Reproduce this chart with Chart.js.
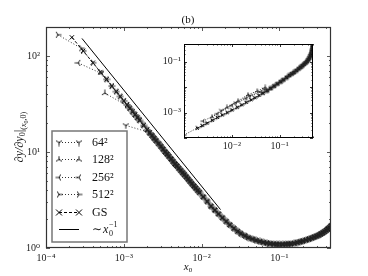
<!DOCTYPE html>
<html>
<head>
<meta charset="utf-8">
<script src="https://cdn.jsdelivr.net/npm/chart.js@4.4.0/dist/chart.umd.min.js"></script>
<style>
html, body { margin: 0; padding: 0; background: #fff; }
#wrap { position: relative; width: 368px; height: 276px; }
#main { position: absolute; left: 0; top: 0; }
#inset { position: absolute; left: 150px; top: 35px; }
</style>
</head>
<body>
<div id="wrap">
  <canvas id="main" width="368" height="276"></canvas>
  <canvas id="inset" width="170" height="120"></canvas>
</div>
<script>
// ---- main panel data ----
const gsX = [2.15e-4, 3.0e-4, 4.0e-4, 5.0e-4, 6.0e-4, 7.0e-4, 8.0e-4, 9.0e-4,
  1.0e-3, 1.1e-3, 1.2e-3, 1.3e-3, 1.4e-3, 1.5e-3, 1.6e-3, 1.8e-3, 2.0e-3, 2.15e-3, 2.3e-3, 2.45e-3, 2.6e-3, 2.8e-3,
  3.0e-3, 3.2e-3, 3.4e-3, 3.6e-3, 3.8e-3, 4.05e-3, 4.3e-3, 4.55e-3, 4.8e-3, 5.1e-3, 5.4e-3, 5.7e-3,
  6.0e-3, 6.35e-3, 6.7e-3, 7.1e-3, 7.5e-3, 7.95e-3, 8.4e-3, 8.9e-3, 9.4e-3,
  0.0105, 0.0118, 0.0132, 0.0148, 0.0165, 0.0185, 0.0207, 0.023, 0.026, 0.029,
  0.032, 0.036, 0.040, 0.045, 0.050, 0.056, 0.062, 0.069, 0.076, 0.084, 0.092,
  0.10, 0.11, 0.12, 0.13, 0.14, 0.155, 0.17, 0.185, 0.20,
  0.22, 0.24, 0.26, 0.28, 0.30, 0.32, 0.34, 0.36, 0.38, 0.40, 0.42, 0.44, 0.46];
const gsY = [156, 113, 85, 68, 57, 48.5, 42.5, 37.8,
  34, 30.9, 28.4, 26.2, 24.3, 22.7, 21.3, 18.9, 17.0, 15.8, 14.8, 13.9, 13.1, 12.2,
  11.4, 10.7, 10.0, 9.5, 9.0, 8.45, 7.95, 7.5, 7.15, 6.75, 6.4, 6.08,
  5.8, 5.5, 5.2, 4.93, 4.67, 4.42, 4.2, 3.98, 3.78,
  3.4, 3.05, 2.72, 2.48, 2.26, 2.06, 1.89, 1.74, 1.60, 1.49,
  1.41, 1.34, 1.28, 1.24, 1.20, 1.17, 1.145, 1.125, 1.11, 1.10, 1.095,
  1.09, 1.09, 1.095, 1.10, 1.105, 1.12, 1.14, 1.16, 1.18,
  1.21, 1.24, 1.27, 1.30, 1.33, 1.36, 1.40, 1.44, 1.48, 1.53, 1.58, 1.63, 1.70];

// first (off-curve) points of the finite grids, then they sit on the GS curve
const n64X = [1.06e-3, 2.12e-3];  const n64Y = [18.9, 16.0];
const n128X = [5.7e-4, 1.14e-3];  const n128Y = [41, 29.8];
const n256X = [2.6e-4, 5.2e-4];   const n256Y = [84.5, 65.4];
const n512X = [1.42e-4, 2.84e-4]; const n512Y = [166, 120];

const powX = [2.9e-4, 0.0175];
const powY = [152, 2.51];

// ---- inset data ----
const inGsX = [1.9e-3, 2.4e-3, 3e-3, 3.9e-3, 5e-3, 6.3e-3, 8e-3, 0.01, 0.013, 0.016, 0.02, 0.025,
  0.03, 0.037, 0.045, 0.055, 0.065, 0.077, 0.09, 0.105, 0.12, 0.14, 0.16, 0.18, 0.2, 0.225,
  0.25, 0.275, 0.3, 0.325, 0.35, 0.375, 0.4, 0.42, 0.44, 0.455, 0.47, 0.48, 0.49, 0.495, 0.5];
const inGsY = [2.4e-4, 3.05e-4, 3.8e-4, 4.95e-4, 6.4e-4, 8.0e-4, 1.0e-3, 1.25e-3, 1.6e-3, 2.0e-3, 2.5e-3, 3.15e-3,
  3.8e-3, 4.7e-3, 5.8e-3, 7.3e-3, 9.0e-3, 0.011, 0.0135, 0.0163, 0.0195, 0.024, 0.029, 0.0335, 0.038, 0.045,
  0.053, 0.061, 0.07, 0.08, 0.09, 0.103, 0.12, 0.14, 0.17, 0.2, 0.25, 0.295, 0.36, 0.41, 0.46];
const in512X = [1.0e-3, 1.9e-3];  const in512Y = [1.3e-4, 2.5e-4];
const in256X = [2.5e-3, 5e-3, 0.01, 0.02, 0.04];  const in256Y = [4.6e-4, 9.0e-4, 1.9e-3, 3.6e-3, 6.5e-3];
const in128X = [3.86e-3, 7.9e-3, 0.0135, 0.0218, 0.034, 0.05];
const in128Y = [6.8e-4, 1.6e-3, 2.9e-3, 5.0e-3, 7.1e-3, 9.8e-3];
const in64X = [6e-3, 0.012, 0.024, 0.048];  const in64Y = [1.2e-3, 2.4e-3, 4.6e-3, 8.2e-3];

const serif = "'Liberation Serif', 'DejaVu Serif', serif";
Chart.defaults.font.family = serif;
Chart.defaults.color = '#222';

function pts(xs, ys) {
  return xs.map((x, i) => ({x: x, y: ys[i]}));
}
// head points of a series, then the GS points beyond its last head point
function withTail(hx, hy, tx, ty) {
  const last = hx[hx.length - 1];
  const out = pts(hx, hy);
  tx.forEach((x, i) => { if (x > last * 1.05) out.push({x: x, y: ty[i]}); });
  return out;
}

// tri markers like matplotlib '1','2','3','4'
function tri(angles, size) {
  const c = document.createElement('canvas');
  c.width = size; c.height = size;
  const g = c.getContext('2d');
  const r = size / 2;
  g.strokeStyle = '#222';
  g.lineWidth = 1;
  g.beginPath();
  angles.forEach(a => {
    const t = a * Math.PI / 180;
    g.moveTo(r, r);
    g.lineTo(r + (r - 0.5) * Math.sin(t), r - (r - 0.5) * Math.cos(t));
  });
  g.stroke();
  return c;
}
const triDown = tri([180, 60, 300], 8);
const triUp = tri([0, 120, 240], 8);
const triLeft = tri([270, 30, 150], 8);
const triRight = tri([90, 210, 330], 8);
const triDownS = tri([180, 60, 300], 6);
const triUpS = tri([0, 120, 240], 6);
const triLeftS = tri([270, 30, 150], 6);
const triRightS = tri([90, 210, 330], 6);

const supMap = {'-': '⁻', '0': '⁰', '1': '¹', '2': '²', '3': '³', '4': '⁴', '5': '⁵', '6': '⁶', '7': '⁷', '8': '⁸', '9': '⁹'};
function powLabel(v, keep) {
  const e = Math.round(Math.log10(v));
  if (Math.abs(Math.log10(v) - e) > 1e-6) return '';
  if (keep && keep.indexOf(e) < 0) return '';
  return '10' + String(e).split('').map(c => supMap[c]).join('');
}

function logTicks(min, max) {
  const out = [];
  for (let e = Math.floor(Math.log10(min)); e <= Math.ceil(Math.log10(max)); e++) {
    for (let m = 1; m <= 9; m++) {
      const v = m * Math.pow(10, e);
      if (v >= min * 0.999 && v <= max * 1.001) out.push({v: v, major: m === 1});
    }
  }
  return out;
}

// frame with inward ticks on all four sides
const frame = {
  id: 'frame',
  afterDatasetsDraw(chart, args, opts) {
    const {ctx, chartArea: a, scales} = chart;
    ctx.save();
    ctx.strokeStyle = opts.color;
    ctx.lineWidth = opts.width;
    ctx.strokeRect(a.left + 0.5, a.top + 0.5, a.right - a.left - 1, a.bottom - a.top - 1);
    ctx.lineWidth = 0.8;
    ctx.beginPath();
    logTicks(scales.x.min, scales.x.max).forEach(t => {
      const px = Math.round(scales.x.getPixelForValue(t.v)) + 0.5;
      const L = t.major ? opts.major : opts.minor;
      ctx.moveTo(px, a.bottom); ctx.lineTo(px, a.bottom - L);
      ctx.moveTo(px, a.top); ctx.lineTo(px, a.top + L);
    });
    logTicks(scales.y.min, scales.y.max).forEach(t => {
      const py = Math.round(scales.y.getPixelForValue(t.v)) + 0.5;
      const L = t.major ? opts.major : opts.minor;
      ctx.moveTo(a.left, py); ctx.lineTo(a.left + L, py);
      ctx.moveTo(a.right, py); ctx.lineTo(a.right - L, py);
    });
    ctx.stroke();
    ctx.restore();
  }
};

function drawMarker(ctx, ds, x, y) {
  const s = ds.pointStyle;
  if (s instanceof HTMLCanvasElement) {
    ctx.drawImage(s, x - s.width / 2, y - s.height / 2);
  } else if (s === 'crossRot') {
    const r = ds.pointRadius;
    ctx.beginPath();
    ctx.moveTo(x - r, y - r); ctx.lineTo(x + r, y + r);
    ctx.moveTo(x - r, y + r); ctx.lineTo(x + r, y - r);
    ctx.stroke();
  }
}

// draws text pieces left to right, each {t, font, dy}
function pieces(ctx, parts, x, y) {
  let w = 0;
  parts.forEach(p => { ctx.font = p.font; w += ctx.measureText(p.t).width; });
  let cx = x - w / 2;
  ctx.textAlign = 'left';
  parts.forEach(p => {
    ctx.font = p.font;
    ctx.fillText(p.t, cx, y + (p.dy || 0));
    cx += ctx.measureText(p.t).width;
  });
}

// legend box, title and axis titles of the main panel
const decor = {
  id: 'decor',
  afterDraw(chart) {
    const ctx = chart.ctx;
    ctx.save();
    // legend
    ctx.fillStyle = '#fff';
    ctx.fillRect(52, 131, 75, 111);
    ctx.strokeStyle = '#777';
    ctx.lineWidth = 1.5;
    ctx.strokeRect(52, 131, 75, 111);
    [0, 1, 2, 3, 4, 5].forEach(i => {
      const ds = chart.data.datasets[i];
      const y = Math.round(142 + i * 17.4) + 0.5;
      ctx.strokeStyle = ds.borderColor;
      ctx.lineWidth = ds.borderWidth;
      ctx.setLineDash(ds.borderDash || []);
      ctx.beginPath();
      ctx.moveTo(59, y); ctx.lineTo(79, y);
      ctx.stroke();
      ctx.setLineDash([]);
      if (ds.pointRadius > 0) {
        ctx.strokeStyle = ds.pointBorderColor || ds.borderColor;
        ctx.lineWidth = 1;
        drawMarker(ctx, ds, 59, y);
        drawMarker(ctx, ds, 79, y);
      }
      ctx.fillStyle = '#111';
      ctx.textBaseline = 'middle';
      ctx.textAlign = 'left';
      ctx.font = '12px ' + serif;
      if (i < 5) {
        ctx.fillText(ds.label, 92, y);
      } else {
        ctx.fillText('∼', 92, y);
        ctx.font = 'italic 12px ' + serif;
        ctx.fillText('x', 103, y);
        ctx.font = '8px ' + serif;
        ctx.fillText('−1', 109, y - 5);
        ctx.fillText('0', 109, y + 4);
      }
    });
    // title
    ctx.fillStyle = '#111';
    ctx.textBaseline = 'middle';
    ctx.textAlign = 'center';
    ctx.font = '11px ' + serif;
    ctx.fillText('(b)', 188, 20);
    // x title
    pieces(ctx, [
      {t: 'x', font: 'italic 11px ' + serif},
      {t: '0', font: '7px ' + serif, dy: 3}
    ], 188, 267);
    // y title
    ctx.translate(20, 137);
    ctx.rotate(-Math.PI / 2);
    pieces(ctx, [
      {t: '∂y/∂y', font: 'italic 12px ' + serif},
      {t: '0', font: '8px ' + serif, dy: 3},
      {t: '|', font: '13px ' + serif},
      {t: '(', font: '8px ' + serif, dy: 4},
      {t: 'x', font: 'italic 8px ' + serif, dy: 4},
      {t: '0', font: '6px ' + serif, dy: 6},
      {t: ',0)', font: '8px ' + serif, dy: 4}
    ], 0, 0);
    ctx.restore();
  }
};

const finite = (label, hx, hy, mk) => ({
  label: label,
  data: withTail(hx, hy, gsX, gsY),
  borderColor: '#333',
  borderWidth: 1,
  borderDash: [1, 2],
  pointStyle: mk,
  pointRadius: 3,
  pointBorderColor: '#222',
  fill: false,
  tension: 0
});

new Chart(document.getElementById('main'), {
  type: 'line',
  data: {
    datasets: [
      finite('64²', n64X, n64Y, triDown),
      finite('128²', n128X, n128Y, triUp),
      finite('256²', n256X, n256Y, triLeft),
      finite('512²', n512X, n512Y, triRight),
      {
        label: 'GS',
        data: pts(gsX, gsY),
        borderColor: '#000',
        borderWidth: 1,
        borderDash: [3, 2],
        pointStyle: 'crossRot',
        pointRadius: 3,
        pointBorderColor: '#000',
        pointBorderWidth: 1,
        fill: false
      },
      {
        label: '∼ x₀⁻¹',
        data: pts(powX, powY),
        borderColor: '#000',
        borderWidth: 1,
        pointRadius: 0,
        fill: false
      }
    ]
  },
  options: {
    responsive: false,
    animation: false,
    devicePixelRatio: 1,
    layout: {padding: {top: 27, right: 37, left: 0, bottom: 0}},
    plugins: {
      legend: {display: false},
      tooltip: {enabled: false},
      frame: {color: '#333', width: 1.2, major: 4, minor: 2}
    },
    scales: {
      x: {
        type: 'logarithmic',
        min: 1e-4,
        max: 0.46,
        grid: {display: false, drawTicks: false},
        border: {display: false},
        ticks: {autoSkip: false, maxRotation: 0, padding: 4, font: {size: 10},
          callback: v => powLabel(v)},
        afterFit: s => { s.height = 28; }
      },
      y: {
        type: 'logarithmic',
        min: 1,
        max: 200,
        grid: {display: false, drawTicks: false},
        border: {display: false},
        ticks: {autoSkip: false, padding: 6, font: {size: 10},
          callback: v => powLabel(v)},
        afterFit: s => { s.width = 46; }
      }
    }
  },
  plugins: [frame, decor]
});

const finiteIn = (label, hx, hy, mk) => ({
  label: label,
  data: withTail(hx, hy, inGsX, inGsY),
  borderColor: '#333',
  borderWidth: 1,
  borderDash: [1, 1.5],
  pointStyle: mk,
  pointRadius: 2,
  fill: false
});

new Chart(document.getElementById('inset'), {
  type: 'line',
  data: {
    datasets: [
      finiteIn('64²', in64X, in64Y, triDownS),
      finiteIn('128²', in128X, in128Y, triUpS),
      finiteIn('256²', in256X, in256Y, triLeftS),
      finiteIn('512²', in512X, in512Y, triRightS),
      {
        label: 'GS',
        data: pts(inGsX, inGsY),
        borderColor: '#000',
        borderWidth: 1,
        borderDash: [2, 1],
        pointStyle: 'crossRot',
        pointRadius: 2,
        pointBorderColor: '#000',
        fill: false
      }
    ]
  },
  options: {
    responsive: false,
    animation: false,
    devicePixelRatio: 1,
    layout: {padding: {top: 6, right: 7, left: 0, bottom: 0}},
    plugins: {
      legend: {display: false},
      tooltip: {enabled: false},
      frame: {color: '#000', width: 1, major: 3, minor: 1.5}
    },
    scales: {
      x: {
        type: 'logarithmic',
        min: 1e-3,
        max: 0.5,
        grid: {display: false, drawTicks: false},
        border: {display: false},
        ticks: {autoSkip: false, maxRotation: 0, padding: 2, font: {size: 10},
          callback: v => powLabel(v, [-2, -1])},
        afterFit: s => { s.height = 17; }
      },
      y: {
        type: 'logarithmic',
        min: 1e-4,
        max: 0.5,
        grid: {display: false, drawTicks: false},
        border: {display: false},
        ticks: {autoSkip: false, padding: 3, font: {size: 10},
          callback: v => powLabel(v, [-1, -3])},
        afterFit: s => { s.width = 34; }
      }
    }
  },
  plugins: [frame]
});
</script>
</body>
</html>
